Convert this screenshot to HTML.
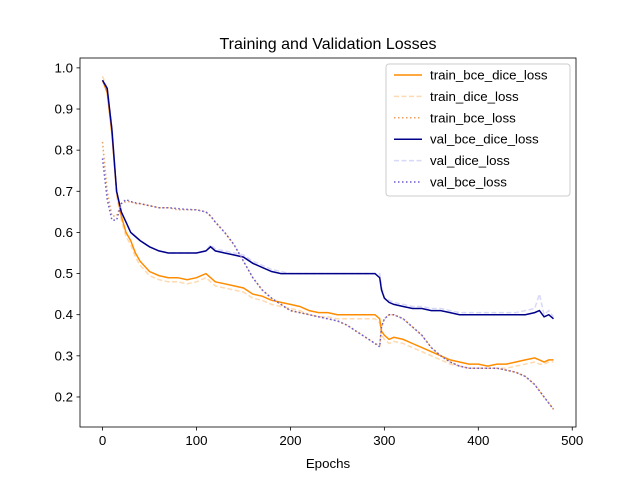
<!DOCTYPE html>
<html><head><meta charset="utf-8"><style>
body{margin:0;background:#fff}
svg{font-family:"Liberation Sans","DejaVu Sans",sans-serif}
</style></head><body>
<svg id="chart" width="640" height="480" xmlns="http://www.w3.org/2000/svg">
<rect width="640" height="480" fill="#fff"/>
<text x="328" y="49" text-anchor="middle" font-size="16">Training and Validation Losses</text>
<g id="plot"></g>
<rect x="80" y="58" width="496" height="369" fill="none" stroke="#000" stroke-width="0.8"/>
<g id="xt"></g>
<g id="yt"></g>
<text x="328" y="468" text-anchor="middle" font-size="13.3">Epochs</text>
<g id="legend"></g>
</svg>
<script>
const epochs = [0,5,10,15,20,25,30,35,40,50,60,70,80,90,100,110,115,120,130,140,150,160,170,180,190,200,210,220,230,240,250,260,270,280,290,295,297,300,305,310,320,330,340,350,360,370,380,390,400,410,420,430,440,450,460,465,470,475,480];
const trainBceDice = [0.97,0.94,0.84,0.7,0.64,0.6,0.58,0.55,0.53,0.505,0.495,0.49,0.49,0.485,0.49,0.5,0.49,0.48,0.475,0.47,0.465,0.45,0.445,0.435,0.43,0.425,0.42,0.41,0.405,0.405,0.4,0.4,0.4,0.4,0.4,0.39,0.36,0.35,0.34,0.345,0.34,0.33,0.32,0.31,0.3,0.29,0.285,0.28,0.28,0.275,0.28,0.28,0.285,0.29,0.295,0.29,0.285,0.29,0.29];
const trainDice = [0.98,0.95,0.85,0.69,0.63,0.59,0.57,0.54,0.52,0.495,0.485,0.48,0.48,0.475,0.48,0.49,0.48,0.47,0.465,0.46,0.455,0.44,0.435,0.425,0.42,0.415,0.41,0.4,0.395,0.395,0.39,0.39,0.39,0.39,0.39,0.38,0.35,0.34,0.33,0.335,0.33,0.32,0.31,0.3,0.29,0.28,0.275,0.27,0.27,0.27,0.27,0.27,0.275,0.28,0.285,0.28,0.28,0.285,0.285];
const trainBce = [0.82,0.7,0.64,0.64,0.67,0.675,0.675,0.67,0.67,0.665,0.66,0.66,0.655,0.655,0.655,0.65,0.64,0.625,0.6,0.57,0.53,0.49,0.46,0.44,0.425,0.41,0.405,0.4,0.395,0.39,0.385,0.375,0.36,0.345,0.33,0.325,0.37,0.39,0.4,0.4,0.39,0.37,0.35,0.32,0.3,0.285,0.275,0.27,0.27,0.27,0.27,0.265,0.26,0.25,0.23,0.215,0.2,0.185,0.17];
const valBceDice = [0.97,0.95,0.85,0.7,0.65,0.625,0.6,0.59,0.58,0.565,0.555,0.55,0.55,0.55,0.55,0.555,0.565,0.555,0.55,0.545,0.54,0.525,0.515,0.505,0.5,0.5,0.5,0.5,0.5,0.5,0.5,0.5,0.5,0.5,0.5,0.49,0.46,0.44,0.43,0.425,0.42,0.415,0.415,0.41,0.41,0.405,0.4,0.4,0.4,0.4,0.4,0.4,0.4,0.4,0.405,0.41,0.395,0.4,0.39];
const valDice = [0.97,0.95,0.86,0.7,0.65,0.625,0.6,0.59,0.58,0.565,0.555,0.55,0.55,0.55,0.55,0.555,0.57,0.56,0.555,0.55,0.545,0.53,0.52,0.51,0.505,0.5,0.5,0.5,0.5,0.5,0.5,0.5,0.5,0.5,0.5,0.5,0.47,0.44,0.435,0.43,0.425,0.42,0.42,0.415,0.415,0.41,0.405,0.405,0.405,0.405,0.405,0.405,0.405,0.41,0.415,0.45,0.4,0.41,0.395];
const valBce = [0.78,0.68,0.63,0.63,0.67,0.68,0.675,0.672,0.67,0.665,0.66,0.66,0.658,0.656,0.655,0.65,0.64,0.625,0.6,0.57,0.53,0.49,0.46,0.44,0.425,0.41,0.405,0.4,0.395,0.39,0.385,0.375,0.36,0.345,0.33,0.322,0.37,0.39,0.4,0.4,0.39,0.37,0.35,0.32,0.3,0.285,0.275,0.27,0.27,0.27,0.27,0.265,0.26,0.25,0.23,0.215,0.2,0.185,0.17];
const xTicks = [0,100,200,300,400,500];
const yTicks = [0.2,0.3,0.4,0.5,0.6,0.7,0.8,0.9,1.0];
const seriesNames = ["train_bce_dice_loss","train_dice_loss","train_bce_loss","val_bce_dice_loss","val_dice_loss","val_bce_loss"];

const NS="http://www.w3.org/2000/svg";
const X0=80,X1=576,Y0=58,Y1=427,XMIN=-24,XMAX=504,YMIN=0.127,YMAX=1.024;
const xs=v=>X0+(v-XMIN)/(XMAX-XMIN)*(X1-X0);
const ys=v=>Y1-(v-YMIN)/(YMAX-YMIN)*(Y1-Y0);
function mk(t,a,p){const e=document.createElementNS(NS,t);for(const k in a)e.setAttribute(k,a[k]);p.appendChild(e);return e;}
const styles=[
 {c:"#ff8c00",d:"",w:1.5},
 {c:"#ffdab0",d:"5,2.5",w:1.5},
 {c:"#e8a060",d:"1.5,2.5",w:1.5},
 {c:"#00008b",d:"",w:1.5},
 {c:"#d8d8f8",d:"5,2.5",w:1.5},
 {c:"#6a5acd",d:"1.5,2.5",w:1.5}];
const data=[trainBceDice,trainDice,trainBce,valBceDice,valDice,valBce];
const plot=document.getElementById('plot');
const order=[1,4,0,3,2,5];
order.forEach(i=>{
 const d=data[i].map((v,j)=>(j?'L':'M')+xs(epochs[j]).toFixed(1)+','+ys(v).toFixed(1)).join('');
 const p=mk('path',{d:d,fill:'none',stroke:styles[i].c,'stroke-width':styles[i].w,'stroke-dasharray':styles[i].d},plot);
 
 
});
const xt=document.getElementById('xt');
xTicks.forEach(t=>{const x=xs(t);
 const l=mk('line',{x1:x,x2:x,y1:Y1,y2:Y1+3.5,stroke:'#000','stroke-width':0.8},xt);
 
 
 const tx=mk('text',{x:x,y:Y1+18,'text-anchor':'middle','font-size':13.3},xt);tx.textContent=t;
 
 });
const yt=document.getElementById('yt');
yTicks.forEach(t=>{const y=ys(t);
 const l=mk('line',{x1:X0-3.5,x2:X0,y1:y,y2:y,stroke:'#000','stroke-width':0.8},yt);
 
 
 const tx=mk('text',{x:X0-7,y:y+4.5,'text-anchor':'end','font-size':13.3},yt);tx.textContent=t.toFixed(1);
 
 });
const lg=document.getElementById('legend');
mk('rect',{x:386,y:64,width:184,height:132,rx:3,fill:'#fff','fill-opacity':0.8,stroke:'#ccc','stroke-width':1},lg);
seriesNames.forEach((n,i)=>{const y=75+i*21.4;
 const g=mk('g',{},lg);
 
 
 mk('line',{x1:394,x2:422,y1:y,y2:y,stroke:styles[i].c,'stroke-width':1.5,'stroke-dasharray':styles[i].d},g);
 const tx=mk('text',{x:430,y:y+4.5,'font-size':13.3},g);tx.textContent=n;});
</script>
</body></html>
